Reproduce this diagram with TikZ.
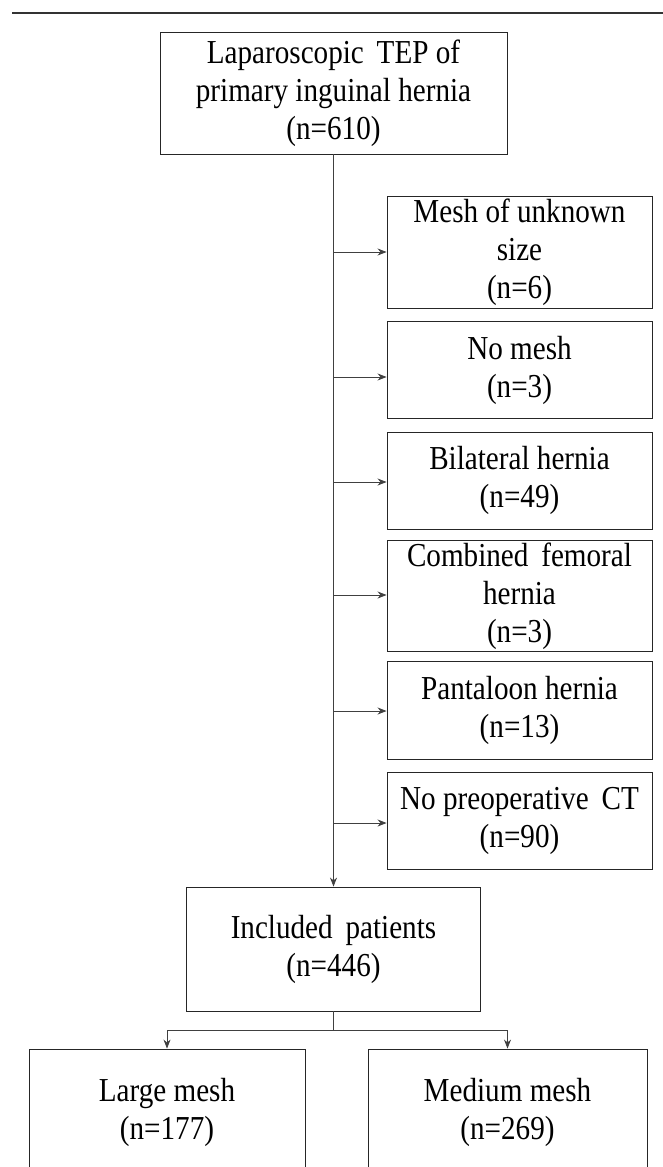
\documentclass[tikz,border=0pt]{standalone}
\usepackage{fontspec}
\setmainfont[FakeStretch=0.87]{Liberation Serif}
\usetikzlibrary{arrows.meta,calc}
\tikzset{
  box/.style={draw=black!85, line width=0.9pt, align=center, inner sep=2pt,
    font=\fontsize{33.5}{38}\selectfont},
  sidebox/.style={box, minimum width=265pt},
  conn/.style={draw=black!75, line width=0.8pt},
  arr/.style={conn, -{Stealth[length=9pt,width=7pt]}},
  rule/.style={draw=black!80, line width=2pt}
}
\begin{document}
\begin{tikzpicture}[x=1pt,y=-1pt]
\clip (0,0) rectangle (663,1167);
\useasboundingbox (0,0) rectangle (663,1167);
% top rule
\coordinate (rl) at (12,12.7);
\coordinate (rr) at (663,12.7);
\draw[rule] (rl) -- (rr);
% main boxes
\node[box, minimum width=347pt, minimum height=122pt] (top) at (333.5,93)
  {Laparoscopic\, TEP of\\primary inguinal hernia\\(n=610)};
\node[sidebox, minimum height=112pt] (m1) at (519.5,252) {Mesh of unknown\\size\\(n=6)};
\node[sidebox, minimum height=97pt] (m2) at (519.5,370) {No mesh\\(n=3)};
\node[sidebox, minimum height=97pt] (m3) at (519.5,480.5) {Bilateral hernia\\(n=49)};
\node[sidebox, minimum height=106pt] (m4) at (519.5,596) {Combined\, femoral\\hernia\\(n=3)};
\node[sidebox, minimum height=98pt] (m5) at (519.5,710) {Pantaloon hernia\\(n=13)};
\node[sidebox, minimum height=97pt] (m6) at (519.5,820.5) {No preoperative\, CT\\(n=90)};
\node[box, minimum width=294pt, minimum height=124pt] (inc) at (333.5,949)
  {Included\, patients\\(n=446)};
\node[box, minimum width=276pt, minimum height=126pt] (large) at (167,1112)
  {Large mesh\\(n=177)};
\node[box, minimum width=279pt, minimum height=126pt] (medium) at (507.5,1112)
  {Medium mesh\\(n=269)};
% trunk
\draw[arr] (top.south) -- (inc.north);
\coordinate (t1) at (333.5,252);
\coordinate (t2) at (333.5,377);
\coordinate (t3) at (333.5,482);
\coordinate (t4) at (333.5,595);
\coordinate (t5) at (333.5,711);
\coordinate (t6) at (333.5,823);
\draw[arr] (t1) -- (m1.west |- t1);
\draw[arr] (t2) -- (m2.west |- t2);
\draw[arr] (t3) -- (m3.west |- t3);
\draw[arr] (t4) -- (m4.west |- t4);
\draw[arr] (t5) -- (m5.west |- t5);
\draw[arr] (t6) -- (m6.west |- t6);
% lower branch
\coordinate (br) at (333.5,1030);
\draw[conn] (inc.south) -- (br);
\draw[arr] (br) -| (large.north);
\draw[arr] (br) -| (medium.north);
\end{tikzpicture}
\end{document}
